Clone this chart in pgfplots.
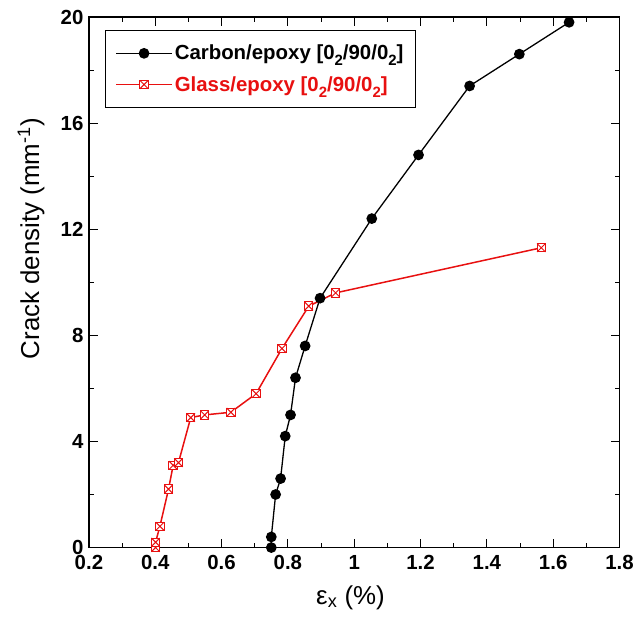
\documentclass[border=0pt]{standalone}
\usepackage{fontspec}
\setmainfont{Liberation Sans}
\usepackage{pgfplots}
\pgfplotsset{compat=1.18}
\definecolor{glassred}{RGB}{232,16,16}

% square with a diagonal cross, as in the original markers
\pgfdeclareplotmark{sqx}{%
  \pgfpathrectangle{\pgfpoint{-\pgfplotmarksize}{-\pgfplotmarksize}}{\pgfpoint{2\pgfplotmarksize}{2\pgfplotmarksize}}%
  \pgfusepath{fill,stroke}%
  \pgfpathmoveto{\pgfpoint{-\pgfplotmarksize}{-\pgfplotmarksize}}%
  \pgfpathlineto{\pgfpoint{\pgfplotmarksize}{\pgfplotmarksize}}%
  \pgfpathmoveto{\pgfpoint{-\pgfplotmarksize}{\pgfplotmarksize}}%
  \pgfpathlineto{\pgfpoint{\pgfplotmarksize}{-\pgfplotmarksize}}%
  \pgfusepathqstroke}
\newcommand{\lsub}[1]{\raisebox{-6bp}{\fontsize{15}{15}\selectfont #1}}

\begin{document}
\begin{tikzpicture}
  \begin{axis}[
    scale only axis, width=531bp, height=531bp,
    xmin=0.2, xmax=1.8, ymin=0, ymax=20,
    xtick={0.2,0.4,...,1.8}, ytick={0,4,...,20},
    minor x tick num=1, minor y tick num=1,
    tick align=inside,
    major tick length=9bp, minor tick length=5bp,
    every tick/.style={black, line width=0.9bp},
    axis line style={line width=1.2bp},
    /pgf/number format/assume math mode=true,
    tick label style={font=\fontsize{20.5}{24}\selectfont\bfseries},
    xticklabel style={yshift=-4bp},
    yticklabel style={xshift=-2bp},
    xlabel={ε\textsubscript{x} (\%)},
    ylabel={Crack density (mm\textsuperscript{-1})},
    label style={font=\fontsize{26}{30}\selectfont},
    xlabel style={at={(axis description cs:0.493,-0.094)}, anchor=center},
    ylabel style={at={(axis description cs:-0.109,0.582)}, anchor=center},
    legend style={at={(axis description cs:0.03,0.976)}, anchor=north west,
      draw=black, line width=1bp, inner xsep=10bp, inner ysep=13bp,
      row sep=11bp, font=\fontsize{20.5}{24}\selectfont\bfseries},
    legend cell align=left,
    legend image code/.code={%
      \draw[mark repeat=2, mark phase=2] plot coordinates {(0bp,0bp) (28bp,0bp) (56bp,0bp)};},
  ]
    \addplot[black, line width=1.3bp, mark=*, mark size=4.7bp,
      mark options={solid, fill=black}] coordinates {
      (0.750,0) (0.750,0.4) (0.763,2.0) (0.778,2.6) (0.792,4.2)
      (0.808,5.0) (0.823,6.4) (0.852,7.6) (0.897,9.4) (1.053,12.4)
      (1.194,14.8) (1.348,17.4) (1.498,18.6) (1.648,19.8)};
    \addlegendentry{Carbon/epoxy [0\lsub{2}/90/0\lsub{2}]}
    \addplot[glassred, line width=1.5bp, mark=sqx, mark size=4.2bp,
      mark options={solid, fill=white, draw=glassred, line width=1bp}] coordinates {
      (0.401,0) (0.401,0.2) (0.414,0.8) (0.440,2.2) (0.454,3.1)
      (0.470,3.2) (0.507,4.9) (0.549,5.0) (0.628,5.1) (0.704,5.8)
      (0.782,7.5) (0.863,9.1) (0.944,9.6) (1.564,11.3)};
    \addlegendentry{\textcolor{glassred}{Glass/epoxy [0\lsub{2}/90/0\lsub{2}]}}
  \end{axis}
  \path (-89bp,-78bp) rectangle (548bp,548bp);
\end{tikzpicture}
\end{document}
